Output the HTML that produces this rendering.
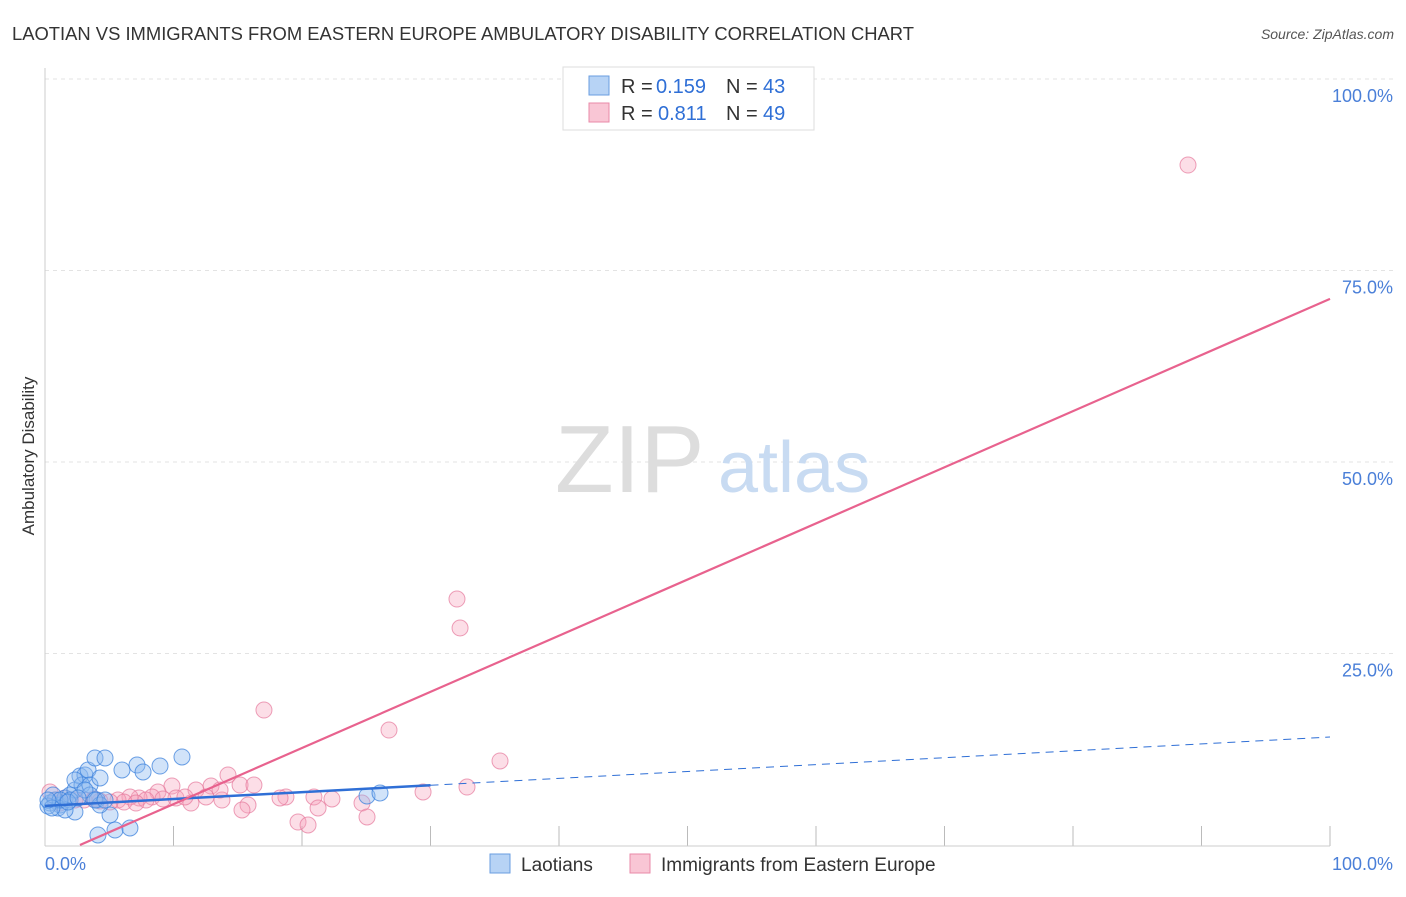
<!DOCTYPE html>
<html><head><meta charset="utf-8"><style>
body{margin:0;background:#fff;font-family:"Liberation Sans",sans-serif;}
svg text{font-family:"Liberation Sans",sans-serif;}
</style></head><body>
<svg width="1406" height="892">
<text x="12" y="40" font-size="18.4" fill="#333">LAOTIAN VS IMMIGRANTS FROM EASTERN EUROPE AMBULATORY DISABILITY CORRELATION CHART</text>
<text x="1394" y="39" font-size="14" fill="#555" font-style="italic" text-anchor="end">Source: ZipAtlas.com</text>
<g id="grid"></g>
<line x1="45" y1="68" x2="45" y2="846" stroke="#ccc"/>
<line x1="45" y1="846" x2="1330" y2="846" stroke="#ccc"/>
<text x="34" y="456" font-size="17" fill="#333" transform="rotate(-90 34 456)" text-anchor="middle">Ambulatory Disability</text>
<text x="555" y="492" font-size="96" fill="#ddd" font-family="Liberation Serif">ZIP</text>
<text x="718" y="492" font-size="72" fill="#c8dbf2">atlas</text>
<g id="pts"></g>
<g id="lines"></g>
<text x="45" y="870" font-size="18" fill="#4a7fd8">0.0%</text>
<text x="1393" y="870" font-size="18" fill="#4a7fd8" text-anchor="end">100.0%</text>
<g>
<rect x="563" y="67" width="251" height="63" fill="#fff" stroke="#ddd"/>
<rect x="589" y="76" width="20" height="19" fill="#b7d3f5" stroke="#6a9ee0"/>
<rect x="589" y="103" width="20" height="19" fill="#f9c6d5" stroke="#e98aa8"/>
<text x="621" y="93" font-size="20" fill="#333">R =</text>
<text x="656" y="93" font-size="20" fill="#2f6fd6">0.159</text>
<text x="726" y="93" font-size="20" fill="#333">N =</text>
<text x="763" y="93" font-size="20" fill="#2f6fd6">43</text>
<text x="621" y="120" font-size="20" fill="#333">R =</text>
<text x="658" y="120" font-size="20" fill="#2f6fd6">0.811</text>
<text x="726" y="120" font-size="20" fill="#333">N =</text>
<text x="763" y="120" font-size="20" fill="#2f6fd6">49</text>
</g>
<g>
<rect x="490" y="854" width="20" height="19" fill="#b7d3f5" stroke="#6a9ee0"/>
<text x="521" y="871" font-size="19" fill="#333">Laotians</text>
<rect x="630" y="854" width="20" height="19" fill="#f9c6d5" stroke="#e98aa8"/>
<text x="661" y="871" font-size="19" fill="#333">Immigrants from Eastern Europe</text>
</g>
</svg>
<script>
const yTicks=[25,50,75,100];
const yTickLabels=["25.0%","50.0%","75.0%","100.0%"];
const xTicks=[10,20,30,40,50,60,70,80,90,100];
const blueX=[0.39,0.78,1.17,1.56,1.95,2.33,2.33,2.72,3.11,3.35,2.88,3.5,3.89,4.67,4.28,4.05,5.06,4.12,5.45,5.99,6.61,7.16,7.63,8.95,10.66,1.95,1.01,0.23,0.62,1.56,3.5,4.28,25.06,26.07,2.33,3.11,1.17,0.54,3.89,1.79,2.57,4.67,0.23];
const blueY=[5.48,5.87,5.22,6.14,6.53,4.31,7.18,9.01,9.14,9.79,7.83,7.83,11.36,11.36,8.75,5.87,3.92,1.31,1.96,9.79,2.22,10.44,9.53,10.31,11.49,5.87,4.83,5.09,6.53,4.57,6.53,5.22,6.4,6.79,8.49,7.18,5.87,4.83,5.87,5.61,6.14,5.87,5.87];
const pinkX=[88.95,32.06,32.3,17.04,26.77,35.41,32.84,29.42,15.18,16.26,14.24,12.92,11.75,9.88,8.79,8.33,7.32,6.61,5.68,4.28,3.04,1.56,0.39,0.86,18.75,18.29,20.93,22.33,21.25,19.69,20.47,24.67,25.06,15.8,15.33,13.77,12.53,11.36,10.19,9.18,7.86,6.15,5.06,3.81,2.33,1.17,10.89,7.08,13.62];
const pinkY=[88.77,32.11,28.33,17.62,15.01,10.97,7.57,6.92,7.83,7.83,9.14,7.7,7.18,7.7,6.92,6.27,6.14,6.27,5.87,5.74,5.87,6.14,6.92,5.87,6.27,6.14,6.27,6.01,4.83,3.0,2.61,5.48,3.66,5.22,4.57,5.87,6.27,5.48,6.14,6.01,5.87,5.61,5.61,6.01,5.87,5.48,6.27,5.48,7.18];
const blueTrend=[5.1,14.1];
const blueSolidEnd=30;
const pinkTrend=[2.72,0,100,71.3];
const X=v=>45+12.85*v, Y=v=>845-7.66*v;
const NS="http://www.w3.org/2000/svg";
function mk(t,a,p){const e=document.createElementNS(NS,t);for(const k in a)e.setAttribute(k,a[k]);p.appendChild(e);return e;}
const grid=document.getElementById('grid');
yTicks.forEach((t,i)=>{
 const l=mk('line',{x1:45,x2:1393,y1:Y(t),y2:Y(t),stroke:'#e3e3e3','stroke-dasharray':'4 4'},grid);
 
 
 const tx=mk('text',{x:1393,y:Y(t)+23,'font-size':18,fill:'#4a7fd8','text-anchor':'end'},grid);
 tx.textContent=yTickLabels[i];
 
 
});
xTicks.forEach(t=>{
 const l=mk('line',{x1:X(t),x2:X(t),y1:826,y2:846,stroke:'#bbb'},grid);
 
 
});
const pts=document.getElementById('pts');
pinkX.forEach((x,i)=>{
 const c=mk('circle',{cx:X(x),cy:Y(pinkY[i]),r:8,fill:'rgba(245,160,185,0.35)',stroke:'rgba(230,120,155,0.7)'},pts);
 
 
});
blueX.forEach((x,i)=>{
 const c=mk('circle',{cx:X(x),cy:Y(blueY[i]),r:8,fill:'rgba(140,185,240,0.4)',stroke:'rgba(60,130,220,0.75)'},pts);
 
 
});
const ln=document.getElementById('lines');
const bAt=v=>blueTrend[0]+(blueTrend[1]-blueTrend[0])*v/100;
let e=mk('line',{x1:X(0),y1:Y(bAt(0)),x2:X(blueSolidEnd),y2:Y(bAt(blueSolidEnd)),stroke:'#2f6fd6','stroke-width':2.5},ln);


e=mk('line',{x1:X(blueSolidEnd),y1:Y(bAt(blueSolidEnd)),x2:X(100),y2:Y(bAt(100)),stroke:'#2f6fd6','stroke-width':1,'stroke-dasharray':'8 6'},ln);


e=mk('line',{x1:X(pinkTrend[0]),y1:Y(pinkTrend[1]),x2:X(pinkTrend[2]),y2:Y(pinkTrend[3]),stroke:'#e8628e','stroke-width':2.2},ln);


</script>
</body></html>
